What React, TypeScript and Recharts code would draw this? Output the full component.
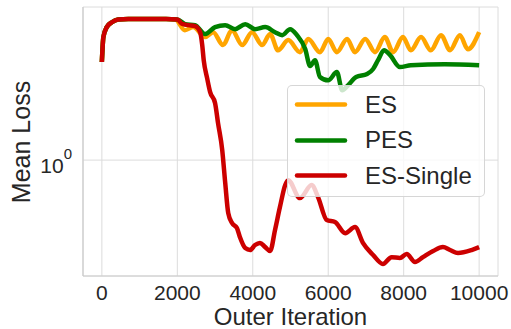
import { LineChart, Line, XAxis, YAxis, CartesianGrid, Legend } from 'recharts';

const font = '"Liberation Sans", Arial, sans-serif';
const textColor = '#262626';

const seriesNames = ['ES', 'PES', 'ES-Single'];
const seriesColors = ['#ffa500', '#008000', '#cc0000'];

const xTicks = [0, 2000, 4000, 6000, 8000, 10000];
const yTicks = [1];

// ES (orange)
const esIter = [
  0, 40, 130, 265, 430, 700, 1200, 1700, 1950,
  2200, 2420, 2740, 2950, 3210, 3450, 3720, 3980, 4250, 4460,
  4670, 4940, 5250, 5470, 5780, 6000, 6230, 6500, 6710, 6980,
  7240, 7500, 7720, 7980, 8190, 8460, 8720, 8990, 9230, 9490,
  9700, 10000,
];
const esLoss = [
  2.74, 3.54, 3.92, 4.12, 4.24, 4.26, 4.26, 4.26, 4.24,
  3.8, 3.92, 3.54, 3.72, 3.26, 3.8, 3.26, 3.72, 3.26, 3.65,
  3.09, 3.43, 3.03, 3.47, 3.03, 3.47, 3.03, 3.47, 3.03, 3.47,
  3.03, 3.54, 3.03, 3.54, 3.09, 3.54, 3.09, 3.61, 3.09, 3.61,
  3.12, 3.72,
];

// PES (green)
const pesIter = [
  0, 40, 130, 265, 430, 700, 1200, 1700, 2000,
  2210, 2470, 2740, 3000, 3270, 3530, 3800, 4060, 4330, 4590,
  4780, 4990, 5170, 5390, 5520, 5650, 5780, 6000, 6230, 6370,
  6530, 6740, 7030, 7190, 7320, 7480, 7640, 7900, 8190, 9090,
  10000,
];
const pesLoss = [
  2.74, 3.54, 3.92, 4.12, 4.24, 4.26, 4.26, 4.26, 4.24,
  4.04, 4.0, 3.65, 3.92, 4.0, 3.84, 4.04, 3.84, 3.92, 3.72,
  3.61, 3.84, 3.61, 3.13, 2.63, 2.79, 2.35, 2.27, 2.47, 2.05,
  2.16, 2.35, 2.42, 2.55, 2.79, 3.09, 2.94, 2.6, 2.65, 2.68,
  2.65,
];

// ES-Single (red)
const singleIter = [
  0, 40, 130, 265, 430, 700, 1200, 1700, 2000,
  2120, 2290, 2470, 2600, 2660, 2700, 2790, 2870, 3000, 3080,
  3190, 3270, 3350, 3450, 3580, 3660, 3800, 3930, 4060, 4190,
  4330, 4460, 4590, 4720, 4860, 4940, 5250, 5560, 5730, 5960,
  6180, 6450, 6710, 6920, 7190, 7450, 7680, 7900, 8080, 8300,
  8510, 8780, 9040, 9230, 9440, 9800, 10000,
];
const singleLoss = [
  2.74, 3.54, 3.92, 4.12, 4.24, 4.26, 4.26, 4.26, 4.24,
  4.06, 4.0, 3.96, 3.74, 3.26, 2.79, 2.32, 2.01, 1.8, 1.46,
  1.11, 0.79, 0.58, 0.524, 0.498, 0.453, 0.405, 0.397, 0.418, 0.427,
  0.409, 0.393, 0.488, 0.617, 0.774, 0.814, 0.677, 0.774, 0.684, 0.54,
  0.529, 0.472, 0.503, 0.427, 0.377, 0.344, 0.369, 0.366, 0.381, 0.351,
  0.369, 0.393, 0.409, 0.397, 0.385, 0.397, 0.409,
];

const toRows = (iters: number[], losses: number[]) =>
  iters.map((iter, i) => ({ iter, loss: losses[i] }));

const seriesData = [
  toRows(esIter, esLoss),
  toRows(pesIter, pesLoss),
  toRows(singleIter, singleLoss),
];

const YTick = ({ x, y }: any) => (
  <text x={x} y={y} textAnchor="end" fill={textColor} fontFamily={font}>
    <tspan fontSize={21} dy={13}>10</tspan>
    <tspan fontSize={15} dy={-14}>0</tspan>
  </text>
);

const renderLegend = () => (
  <div
    style={{
      width: 198,
      height: 112,
      boxSizing: 'border-box',
      border: '1px solid rgba(204,204,204,0.8)',
      borderRadius: 5,
      background: 'rgba(255,255,255,0.8)',
      paddingTop: 1,
      fontFamily: font,
      fontSize: 24,
      color: textColor,
    }}
  >
    {seriesNames.map((name, i) => (
      <div key={name} style={{ height: 35.5, display: 'flex', alignItems: 'center' }}>
        <svg width={54} height={7} style={{ marginLeft: 6 }}>
          <line x1={3} y1={3.5} x2={51} y2={3.5} stroke={seriesColors[i]} strokeWidth={4.5} strokeLinecap="round" />
        </svg>
        <span style={{ marginLeft: 17 }}>{name}</span>
      </div>
    ))}
  </div>
);

const App = () => {
  return (
    <div style={{ position: 'absolute', left: 0, top: 0, width: 511, height: 329, background: '#fff' }}>
      <LineChart width={511} height={329} margin={{ top: 7, right: 13, left: 0, bottom: 0 }}>
        <CartesianGrid stroke="#dcdcdc" strokeWidth={1} />
        <XAxis
          dataKey="iter"
          type="number"
          domain={[-500, 10500]}
          ticks={xTicks}
          height={53}
          tickLine={false}
          tickMargin={3}
          axisLine={{ stroke: '#cccccc', strokeWidth: 1.2 }}
          tick={{ fontSize: 21, fill: textColor, fontFamily: font }}
          allowDataOverflow
          label={({ viewBox }: any) => (
            <text
              x={viewBox.x + viewBox.width / 2}
              y={viewBox.y + 49}
              textAnchor="middle"
              fontSize={24}
              fontFamily={font}
              fill={textColor}
            >
              Outer Iteration
            </text>
          )}
        />
        <XAxis
          xAxisId="top"
          orientation="top"
          type="number"
          domain={[-500, 10500]}
          height={0}
          tick={false}
          tickLine={false}
          axisLine={{ stroke: '#cccccc', strokeWidth: 1.2 }}
        />
        <YAxis
          dataKey="loss"
          scale="log"
          type="number"
          domain={[0.304, 4.82]}
          allowDataOverflow
          ticks={yTicks}
          width={83}
          tickLine={false}
          tickMargin={5}
          axisLine={{ stroke: '#cccccc', strokeWidth: 1.2 }}
          tick={<YTick />}
          label={({ viewBox }: any) => (
            <text
              x={21}
              y={viewBox.y + 135}
              textAnchor="middle"
              dominantBaseline="central"
              transform={`rotate(-90, 21, ${viewBox.y + 135})`}
              fontSize={25}
              fontFamily={font}
              fill={textColor}
            >
              Mean Loss
            </text>
          )}
        />
        <YAxis
          yAxisId="right"
          orientation="right"
          width={0}
          tick={false}
          tickLine={false}
          axisLine={{ stroke: '#cccccc', strokeWidth: 1.2 }}
        />
        {seriesNames.map((name, i) => (
          <Line
            key={name}
            name={name}
            data={seriesData[i]}
            dataKey="loss"
            type="monotone"
            stroke={seriesColors[i]}
            strokeWidth={4.5}
            strokeLinejoin="round"
            dot={false}
            activeDot={false}
            isAnimationActive={false}
          />
        ))}
        <Legend
          layout="horizontal"
          verticalAlign="middle"
          align="center"
          content={renderLegend}
          wrapperStyle={{ left: 287, top: 85, width: 198 }}
        />
      </LineChart>
    </div>
  );
};

export default App;
